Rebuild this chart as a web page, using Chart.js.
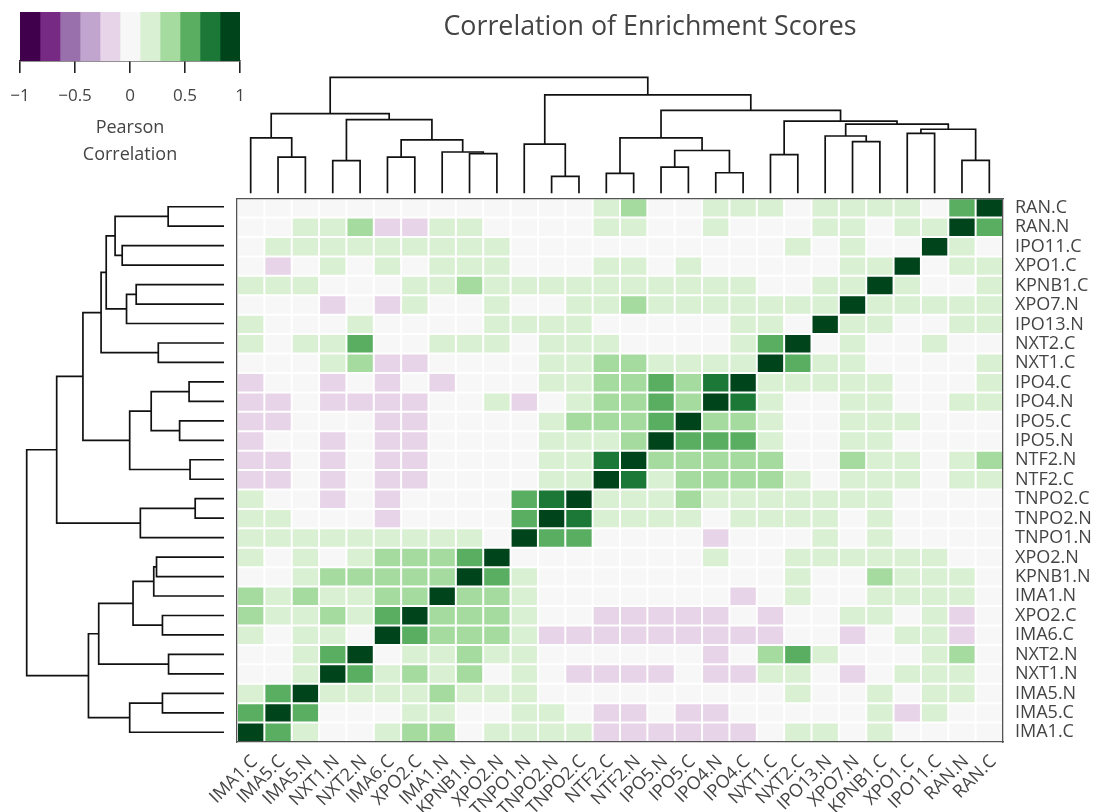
<!DOCTYPE html>
<html><head><meta charset="utf-8">
<script src="https://cdn.jsdelivr.net/npm/chart.js@4.4.1/dist/chart.umd.min.js"></script>
<style>
html,body{margin:0;padding:0;background:#fff;}
#wrap{position:relative;width:1100px;height:812px;overflow:hidden;background:#fff;}
canvas{position:absolute;}
</style></head><body>
<div id="wrap">
<canvas id="main" width="1100" height="812" style="left:0;top:0"></canvas>
<canvas id="cbar" width="260" height="180" style="left:0;top:0"></canvas>
<canvas id="dtop" width="766" height="127" style="left:237px;top:70px"></canvas>
<canvas id="dleft" width="237" height="545" style="left:0;top:197px"></canvas>
</div>
<script>
// ---- tick labels ----
const colLabels = ['IMA1.C','IMA5.C','IMA5.N','NXT1.N','NXT2.N','IMA6.C','XPO2.C','IMA1.N','KPNB1.N','XPO2.N',
  'TNPO1.N','TNPO2.N','TNPO2.C','NTF2.C','NTF2.N','IPO5.N','IPO5.C','IPO4.N','IPO4.C',
  'NXT1.C','NXT2.C','IPO13.N','XPO7.N','KPNB1.C','XPO1.C','IPO11.C','RAN.N','RAN.C'];
const rowLabels = ['RAN.C','RAN.N','IPO11.C','XPO1.C','KPNB1.C','XPO7.N','IPO13.N','NXT2.C','NXT1.C',
  'IPO4.C','IPO4.N','IPO5.C','IPO5.N','NTF2.N','NTF2.C','TNPO2.C','TNPO2.N','TNPO1.N',
  'XPO2.N','KPNB1.N','IMA1.N','XPO2.C','IMA6.C','NXT2.N','NXT1.N','IMA5.N','IMA5.C','IMA1.C'];

// ---- correlation values (rows follow rowLabels, columns follow colLabels) ----
const corr = [
 [0,0,0,0,0,0,0,0,0,0, 0,0,0,0.2,0.38,0,0,0.2,0.2, 0.2,0,0.2,0.2,0.2,0.2,0,0.56,1],
 [0,0,0.2,0.2,0.38,-0.15,-0.15,0.2,0.2,0, 0,0,0,0.2,0.2,0,0,0.2,0, 0,0,0.2,0.2,0,0.2,0.2,1,0.56],
 [0,0.2,0.2,0.2,0.2,0.2,0.2,0.2,0.2,0.2, 0,0,0,0,0,0,0,0,0, 0,0.2,0,0.2,0,0,1,0.2,0],
 [0,-0.15,0,0.2,0,0.2,0,0.2,0.2,0.2, 0,0,0,0.2,0.2,0,0.2,0,0, 0,0,0,0.2,0.2,1,0,0.2,0.2],
 [0.2,0.2,0.2,0,0,0,0.2,0.2,0.38,0.2, 0.2,0.2,0.2,0.2,0.2,0.2,0.2,0.2,0.2, 0,0,0.2,0.2,1,0.2,0,0,0.2],
 [0,0,0,-0.15,0,-0.15,0.2,0,0,0.2, 0,0,0.2,0.2,0.38,0.2,0.2,0.2,0.2, 0.2,0.2,0.2,1,0.2,0.2,0.2,0.2,0.2],
 [0.2,0,0,0,0.2,0,0,0,0,0.2, 0.2,0.2,0.2,0,0,0,0,0,0.2, 0.2,0,1,0.2,0.2,0,0,0.2,0.2],
 [0.2,0,0.2,0.2,0.56,0,0,0.2,0.2,0.2, 0,0.2,0.2,0.2,0,0,0,0,0.2, 0.56,1,0,0.2,0,0,0.2,0,0],
 [0,0,0,0.2,0.38,-0.15,-0.15,0,0,0, 0,0.2,0.2,0.38,0.38,0.2,0.2,0.2,0.2, 1,0.56,0.2,0.2,0,0,0,0,0.2],
 [-0.15,0,0,-0.15,0,-0.15,0,-0.15,0,0, 0,0.2,0.2,0.38,0.38,0.56,0.38,0.74,1, 0.2,0.2,0.2,0.2,0.2,0,0,0,0.2],
 [-0.15,-0.15,0,-0.15,-0.15,-0.15,-0.15,0,0,0.2, -0.15,0,0.2,0.38,0.38,0.56,0.38,1,0.74, 0.2,0,0,0.2,0.2,0,0,0.2,0.2],
 [-0.15,-0.15,0,0,0,-0.15,-0.15,0,0,0, 0,0.2,0.38,0.38,0.38,0.56,1,0.38,0.38, 0.2,0,0,0.2,0.2,0.2,0,0,0],
 [-0.15,0,0,-0.15,0,-0.15,-0.15,0,0,0, 0,0.2,0.2,0.2,0.38,1,0.56,0.56,0.56, 0.2,0,0,0.2,0.2,0,0,0,0],
 [-0.15,-0.15,0,-0.15,0,-0.15,-0.15,0,0,0, 0,0.2,0.2,0.74,1,0.38,0.38,0.38,0.38, 0.38,0,0,0.38,0.2,0.2,0,0.2,0.38],
 [-0.15,-0.15,0,-0.15,0,-0.15,-0.15,0,0,0, 0,0.2,0.2,1,0.74,0.2,0.38,0.38,0.38, 0.38,0.2,0,0.2,0.2,0.2,0,0.2,0.2],
 [0.2,0,0,-0.15,0,-0.15,0,0,0,0, 0.56,0.74,1,0.2,0.2,0.2,0.38,0.2,0.2, 0.2,0.2,0.2,0.2,0.2,0,0,0,0],
 [0.2,0.2,0,0,0,-0.15,0,0,0,0, 0.56,1,0.74,0.2,0.2,0.2,0.2,0,0.2, 0.2,0.2,0.2,0,0.2,0,0,0,0],
 [0.2,0.2,0.2,0.2,0.2,0.2,0.2,0.2,0.2,0, 1,0.56,0.56,0,0,0,0,-0.15,0, 0,0,0.2,0,0.2,0,0,0,0],
 [0.2,0,0.2,0,0.2,0.38,0.38,0.38,0.56,1, 0,0,0,0,0,0,0,0.2,0, 0,0.2,0.2,0.2,0.2,0.2,0.2,0,0],
 [0,0,0.2,0.38,0.38,0.38,0.38,0.38,1,0.56, 0.2,0,0,0,0,0,0,0,0, 0,0.2,0,0,0.38,0.2,0.2,0.2,0],
 [0.38,0.2,0.38,0.2,0.2,0.38,0.38,1,0.38,0.38, 0.2,0,0,0,0,0,0,0,-0.15, 0,0.2,0,0,0.2,0.2,0.2,0.2,0],
 [0.38,0.2,0.2,0.38,0.2,0.56,1,0.38,0.38,0.38, 0.2,0,0,-0.15,-0.15,-0.15,-0.15,-0.15,0, -0.15,0,0,0.2,0.2,0,0.2,-0.15,0],
 [0.2,0,0.2,0.2,0,1,0.56,0.38,0.38,0.38, 0.2,-0.15,-0.15,-0.15,-0.15,-0.15,-0.15,-0.15,-0.15, -0.15,0,0,-0.15,0,0.2,0.2,-0.15,0],
 [0,0,0.2,0.56,1,0,0.2,0.2,0.38,0.2, 0.2,0,0,0,0,0,0,-0.15,0, 0.38,0.56,0.2,0,0,0,0.2,0.38,0],
 [0,0,0.2,1,0.56,0.2,0.38,0.2,0.38,0, 0.2,0,-0.15,-0.15,-0.15,-0.15,0,-0.15,-0.15, 0.2,0.2,0,-0.15,0,0.2,0.2,0.2,0],
 [0.2,0.56,1,0.2,0.2,0.2,0.2,0.38,0.2,0.2, 0.2,0,0,0,0,0,0,0,0, 0,0.2,0,0,0.2,0,0.2,0.2,0],
 [0.56,1,0.56,0,0,0,0.2,0.2,0,0, 0.2,0.2,0,-0.15,-0.15,0,-0.15,-0.15,0, 0,0,0,0,0.2,-0.15,0.2,0,0],
 [1,0.56,0.2,0,0,0.2,0.38,0.38,0,0.2, 0.2,0.2,0.2,-0.15,-0.15,-0.15,-0.15,-0.15,-0.15, 0,0.2,0.2,0,0.2,0,0,0,0]
];

// ---- hierarchical clustering (child label or earlier merge index, child, distance) ----
const linkage = [
  ['RAN.N','RAN.C',0.283],      // 0
  ['XPO1.C','IPO11.C',0.516],   // 1
  [1,0,0.552],                  // 2
  ['XPO7.N','KPNB1.C',0.445],   // 3
  ['IPO13.N',3,0.494],          // 4
  [4,2,0.597],                  // 5
  ['NXT1.C','NXT2.C',0.333],    // 6
  [6,5,0.623],                  // 7
  ['IPO4.N','IPO4.C',0.177],    // 8
  ['IPO5.N','IPO5.C',0.225],    // 9
  [9,8,0.369],                  // 10
  ['NTF2.C','NTF2.N',0.172],    // 11
  [11,10,0.478],                // 12
  [12,7,0.715],                 // 13
  ['TNPO2.N','TNPO2.C',0.146],  // 14
  ['TNPO1.N',14,0.424],         // 15
  [15,13,0.848],                // 16
  ['KPNB1.N','XPO2.N',0.342],   // 17
  ['IMA1.N',17,0.356],          // 18
  ['IMA6.C','XPO2.C',0.312],    // 19
  [19,18,0.461],                // 20
  ['NXT1.N','NXT2.N',0.281],    // 21
  [21,20,0.635],                // 22
  ['IMA5.C','IMA5.N',0.312],    // 23
  ['IMA1.C',23,0.478],          // 24
  [24,22,0.687],                // 25
  [25,16,1.0]                   // 26
];

// ---- colour scale (PRGn, 11 classes over [-1, 1]) ----
const PRGn11 = ['#40004b','#762a83','#9970ab','#c2a5cf','#e7d4e8','#f7f7f7','#d9f0d3','#a6dba0','#5aae61','#1b7837','#00441b'];
const cbTicks = [-1,-0.5,0,0.5,1];

const TXT = '#444';
Chart.defaults.font.family = "'Open Sans', 'Noto Sans', sans-serif";
Chart.defaults.color = TXT;

function colorFor(v){
  let k = Math.floor((v + 1) / (2 / PRGn11.length));
  k = Math.max(0, Math.min(PRGn11.length - 1, k));
  return PRGn11[k];
}

// ---- heatmap: stacked bars, one dataset per row (bottom row first) ----
const heatDatasets = rowLabels.map((name, r) => ({
  label: name,
  data: colLabels.map(() => 1),
  backgroundColor: corr[r].map(colorFor)
})).reverse();

const frame = {display:true, color:'#555', width:1.3, z:1};

new Chart(document.getElementById('main'), {
  type:'bar',
  data:{labels:colLabels, datasets:heatDatasets},
  options:{
    responsive:false, animation:false, devicePixelRatio:1,
    layout:{padding:{left:200, right:0, top:0, bottom:0}},
    plugins:{
      legend:{display:false}, tooltip:{enabled:false},
      title:{display:true, text:'Correlation of Enrichment Scores', color:TXT,
             font:{size:26.8, weight:'normal'}, padding:{top:11, bottom:155}}
    },
    datasets:{bar:{categoryPercentage:1, barPercentage:1, borderWidth:1, borderColor:'#ffffff',
                   borderSkipped:false, inflateAmount:0}},
    scales:{
      x:{type:'category', position:'bottom', stacked:true, offset:true,
         grid:{display:false, drawTicks:false}, border:frame,
         ticks:{autoSkip:false, maxRotation:45, minRotation:45, color:TXT, font:{size:18},
                padding:9, labelOffset:4},
         afterFit:s=>{s.height=70; s.paddingLeft=0; s.paddingRight=0;}},
      x2:{type:'category', labels:colLabels, position:'top', offset:true,
          grid:{display:false, drawTicks:false}, border:frame, ticks:{display:false},
          afterFit:s=>{s.height=0; s.paddingLeft=0; s.paddingRight=0;}},
      y:{type:'linear', position:'left', stacked:true, min:0, max:rowLabels.length,
         grid:{display:false, drawTicks:false}, border:frame, ticks:{display:false},
         afterFit:s=>{s.width=37; s.paddingTop=0; s.paddingBottom=0;}},
      y2:{type:'category', labels:rowLabels, position:'right', offset:true,
          grid:{display:false, drawTicks:false}, border:frame,
          ticks:{autoSkip:false, color:TXT, font:{size:18}, padding:12},
          afterFit:s=>{s.width=97; s.paddingTop=0; s.paddingBottom=0;}}
    }
  }
});

// ---- colour bar ----
const binW = 2 / PRGn11.length;
new Chart(document.getElementById('cbar'), {
  type:'bar',
  data:{labels:['r'], datasets:PRGn11.map((c,k)=>({
    data:[[-1 + k*binW, -1 + (k+1)*binW]], backgroundColor:c, borderWidth:0,
    grouped:false, categoryPercentage:1, barPercentage:1}))},
  options:{
    indexAxis:'y', responsive:false, animation:false, devicePixelRatio:1,
    layout:{padding:{left:20, right:20, top:12, bottom:0}},
    plugins:{legend:{display:false}, tooltip:{enabled:false}},
    scales:{
      y:{type:'category', display:false},
      x:{type:'linear', min:-1, max:1, position:'bottom',
         afterBuildTicks:s=>{s.ticks = cbTicks.map(v=>({value:v}));},
         grid:{display:true, drawOnChartArea:false, drawTicks:true, tickLength:12, color:'#222', lineWidth:1.6},
         border:{display:true, color:'#222', width:1.6},
         ticks:{color:TXT, font:{size:17}, padding:13,
                callback:v=> (v<0?'\u2212':'') + Math.abs(v)},
         title:{display:true, text:['Pearson','Correlation'], color:TXT,
                font:{size:18, lineHeight:1.5}, padding:{top:4, bottom:11.5}},
         afterFit:s=>{s.height=119; s.paddingLeft=0; s.paddingRight=0;}}
    }
  }
});

// ---- dendrograms ----
function dendroSegments(order){
  const pos = {}; order.forEach((n,i)=>{pos[n]=i;});
  const nodes = [];
  const get = c => typeof c === 'number' ? nodes[c] : {p:pos[c], h:0};
  const segs = [];
  linkage.forEach(([a,b,h])=>{
    const A = get(a), B = get(b);
    segs.push([[A.p,A.h],[A.p,h],[B.p,h],[B.p,B.h]]);
    nodes.push({p:(A.p+B.p)/2, h:h});
  });
  return segs;
}
const lineStyle = {showLine:true, borderColor:'#111', borderWidth:1.7, pointRadius:0, fill:false, clip:false};

new Chart(document.getElementById('dtop'), {
  type:'scatter',
  data:{datasets:dendroSegments(colLabels).map(s=>Object.assign({data:s.map(([p,h])=>({x:p,y:h}))}, lineStyle))},
  options:{
    responsive:false, animation:false, devicePixelRatio:1,
    layout:{padding:{left:0, right:0, top:7.3, bottom:3.7}},
    plugins:{legend:{display:false}, tooltip:{enabled:false}},
    scales:{x:{type:'linear', min:-0.5, max:colLabels.length-0.5, display:false},
            y:{type:'linear', min:0, max:1, display:false}}
  }
});

new Chart(document.getElementById('dleft'), {
  type:'scatter',
  data:{datasets:dendroSegments(rowLabels).map(s=>Object.assign({data:s.map(([p,h])=>({x:h,y:p}))}, lineStyle))},
  options:{
    responsive:false, animation:false, devicePixelRatio:1,
    layout:{padding:{left:26.7, right:13, top:0, bottom:0}},
    plugins:{legend:{display:false}, tooltip:{enabled:false}},
    scales:{x:{type:'linear', min:0, max:1, reverse:true, display:false},
            y:{type:'linear', min:-0.5, max:rowLabels.length-0.5, reverse:true, display:false}}
  }
});
</script>
</body></html>
